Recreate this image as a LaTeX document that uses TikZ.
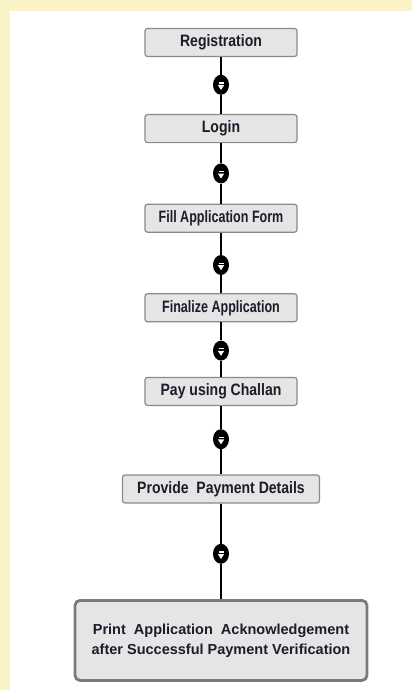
\documentclass[tikz,border=0pt]{standalone}
\usepackage{fontspec}
\setmainfont{Liberation Sans}
\newfontfamily\stepfont{Liberation Sans}[FakeStretch=0.85]
\newfontfamily\narrowfont{Liberation Sans}[FakeStretch=0.76]
\usetikzlibrary{positioning}
\usetikzlibrary{shapes.geometric}

\definecolor{paleyellow}{HTML}{FBF2C5}
\definecolor{boxfill}{HTML}{E5E5E5}
\definecolor{boxline}{HTML}{8A8A8A}
\definecolor{lastline}{HTML}{7A7A7A}
\definecolor{inktext}{HTML}{1C1C2A}

\tikzset{
  stepbox/.style={draw=boxline, fill=boxfill, rounded corners=2.5pt, line width=1.2pt,
    minimum width=152pt, minimum height=28pt, inner sep=0pt, text=inktext,
    font=\stepfont\fontsize{16.5}{18}\selectfont\bfseries},
  lastbox/.style={stepbox, draw=lastline, line width=2.8pt, rounded corners=5pt,
    minimum width=292pt, minimum height=80pt, align=center,
    font=\fontsize{14.5}{20}\selectfont\bfseries},
  flowmark/.style={ellipse, fill=black, minimum width=16pt, minimum height=20pt, inner sep=0pt,
    path picture={
      \fill[white] ([shift={(-2.5pt,1.2pt)}]path picture bounding box.center)
        rectangle ([shift={(2.5pt,2.4pt)}]path picture bounding box.center);
      \fill[white] ([shift={(-3.2pt,-0.2pt)}]path picture bounding box.center)
        -- ([shift={(3.2pt,-0.2pt)}]path picture bounding box.center)
        -- ([shift={(0pt,-5.2pt)}]path picture bounding box.center) -- cycle;
    }},
  flowline/.style={line width=1.2pt, black},
}

\begin{document}
\begin{tikzpicture}[x=1pt, y=1pt]
    \useasboundingbox (0,0) rectangle (412,-690);
    \fill[paleyellow] (0,0) rectangle (412,-690);
    \fill[white] (10,-11) rectangle (412,-690);

    \node [stepbox] (reg) at (221,-42.5) {Registration};
    \node [flowmark, below=17.5pt of reg] (m1) {};
    \node [stepbox, below=19pt of m1] (login) {Login};
    \node [flowmark, below=20pt of login] (m2) {};
    \node [stepbox, below=20pt of m2] (fill) {\narrowfont Fill Application Form};
    \node [flowmark, below=22pt of fill] (m3) {};
    \node [stepbox, below=18pt of m3] (final) {\narrowfont Finalize Application};
    \node [flowmark, below=18pt of final] (m4) {};
    \node [stepbox, below=16pt of m4] (pay) {Pay using Challan};
    \node [flowmark, below=23pt of pay] (m5) {};
    \node [stepbox, minimum width=197pt, below=25pt of m5] (paydet) {Provide\ \ Payment Details};
    \node [flowmark, below=40pt of paydet] (m6) {};
    \node [lastbox, below=35pt of m6] (print)
      {Print\ \ Application\ \ Acknowledgement\\after Successful Payment Verification};

    \draw [flowline] (reg) -- (m1) -- (login) -- (m2) -- (fill) -- (m3) -- (final);
    \draw [flowline] (final) -- (m4) -- (pay) -- (m5) -- (paydet) -- (m6) -- (print);
\end{tikzpicture}
\end{document}
